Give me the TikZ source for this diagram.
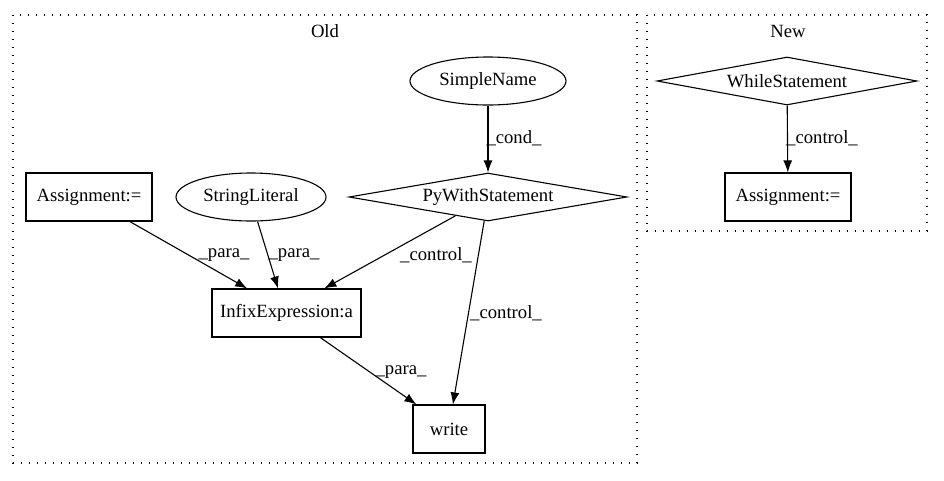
\documentclass[tikz,border=0pt]{standalone}
\usepackage{fontspec}
\setmainfont{Liberation Serif}
\usepackage{tikz}
\usetikzlibrary{shapes.geometric,arrows.meta}

\begin{document}
\begin{tikzpicture}[x=1pt, y=-1pt, line width=1.1pt, >={Latex[length=12pt,width=9pt]},
  every node/.style={font=\fontsize{18.67}{22}\selectfont, inner sep=0pt},
  box/.style={draw, rectangle, minimum height=48pt},
  oval/.style={draw, ellipse, minimum height=48pt},
  cond/.style={draw, diamond, aspect=5.8, minimum height=48pt},
  cluster/.style={line width=1.3pt, dash pattern=on 1.3pt off 6.7pt}]
\useasboundingbox (0,0) rectangle (944,480);

\draw[cluster] (13,15) rectangle (637,463);
\draw[cluster] (647,15) rectangle (927,231);
\node (old) at (325,31) {Old};
\node (new) at (788,31) {New};

\node[oval, minimum width=156pt] (sname) at (488,81) {SimpleName};
\node[cond, minimum width=278pt] (pws) at (488,197) {PyWithStatement};
\node[box, minimum width=126pt] (asg) at (89,197) {Assignment:=};
\node[oval, minimum width=150pt] (str) at (251,197) {StringLiteral};
\node[box, minimum width=149pt] (infix) at (286.5,313) {InfixExpression:a};
\node[box, minimum width=72pt] (write) at (449,429) {write};

\node[cond, minimum width=260pt] (wstmt) at (787,81) {WhileStatement};
\node[box, minimum width=126pt] (asgnew) at (788,197) {Assignment:=};

\draw[->] (sname) -- (pws);
\draw[->] (asg.-31) -- (infix.148);
\draw[->] (str.-75) -- (infix.109);
\draw[->] (pws.-150) -- (infix.33);
\draw[->] (pws.-99) -- (write.81);
\draw[->] (infix.-36) -- (write.143);

\draw[->] (wstmt) -- (asgnew);

\node (lcond) at (514,138) {\_cond\_};
\node (lpara1) at (224,255) {\_para\_};
\node (lpara2) at (294,255) {\_para\_};
\node (lctrl1) at (436,255) {\_control\_};
\node (lctrl2) at (506,313) {\_control\_};
\node (lpara3) at (401,372) {\_para\_};
\node (lctrl3) at (822,138) {\_control\_};
\end{tikzpicture}
\end{document}
